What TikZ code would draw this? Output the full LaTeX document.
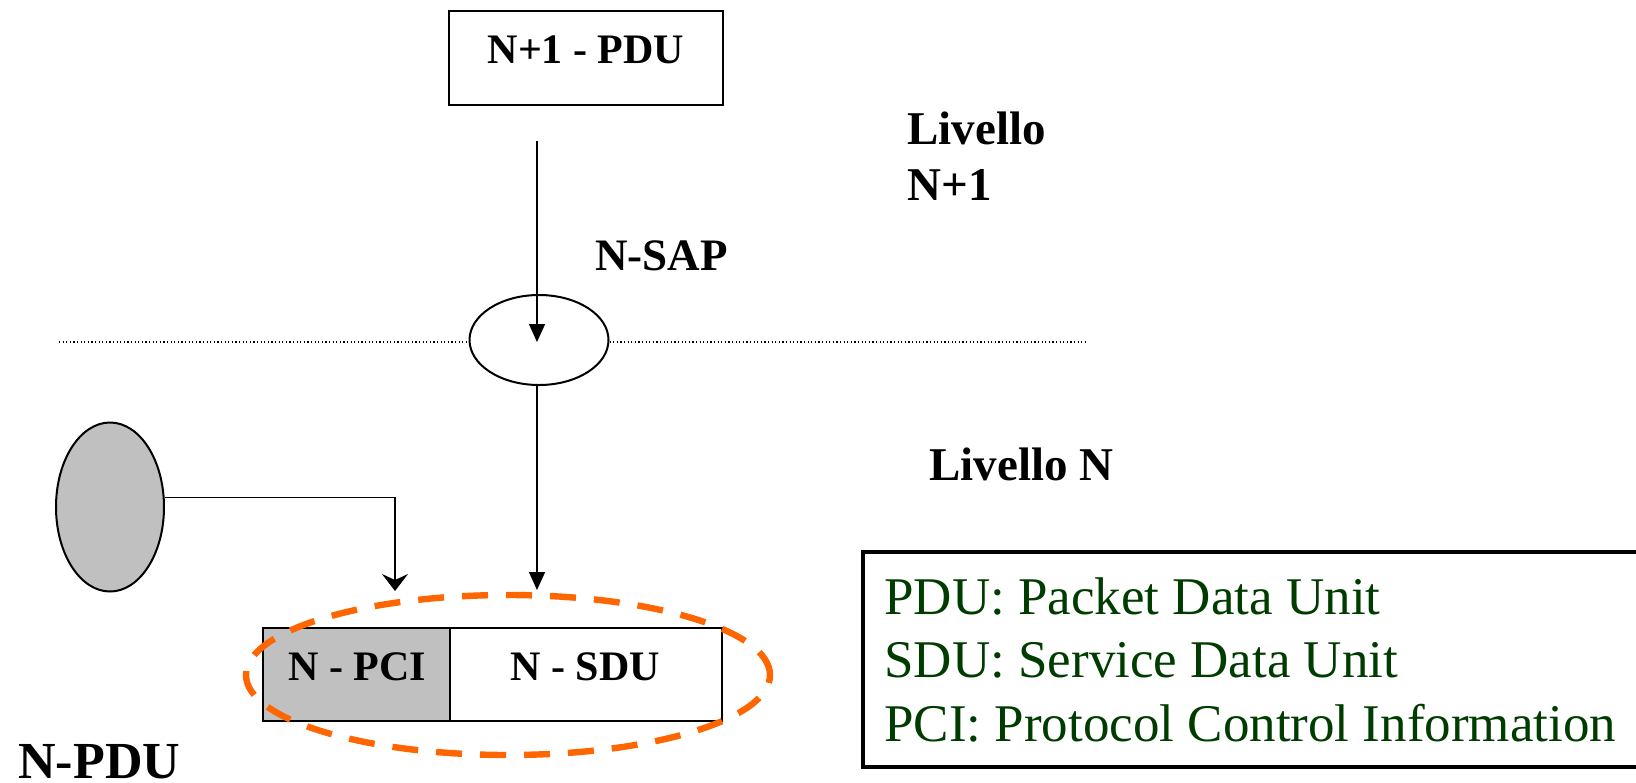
\documentclass[tikz,border=0pt]{standalone}
\usepackage{fontspec}
\setmainfont{Liberation Serif}
\usetikzlibrary{arrows.meta,shapes.geometric}
\definecolor{legendgreen}{RGB}{0,60,0}
\definecolor{dashorange}{RGB}{255,102,0}
\definecolor{pcigray}{RGB}{192,192,192}
\begin{document}
\begin{tikzpicture}[x=0.5pt,y=-0.5pt,
  boxstyle/.style={draw,rectangle,line width=1pt,inner sep=0pt},
  ellstyle/.style={draw,ellipse,line width=1pt,inner sep=0pt},
  conn/.style={line width=0.75pt},
  arr/.style={conn,-{Triangle[length=9pt,width=8pt]}},
  openarr/.style={conn,-{Stealth[length=8.5pt,width=13pt,inset=3pt]}},
  dotline/.style={line width=0.7pt,dash pattern=on 0.6pt off 1.2pt},
  boxlbl/.style={inner sep=0pt,anchor=base,font=\bfseries\fontsize{21}{25}\selectfont},
  lvl/.style={inner sep=0pt,anchor=base west,font=\bfseries\fontsize{23.5}{28}\selectfont},
  legtext/.style={inner sep=0pt,anchor=base west,text=legendgreen,font=\fontsize{26.5}{32}\selectfont}
]
\useasboundingbox (0,0) rectangle (1636,782);
\clip (0,0) rectangle (1636,782);

% top box
\node[boxstyle,minimum width=137pt,minimum height=47pt] (top) at (586,58) {};
\node[boxlbl] (toplbl) at (586,63) {N+1 - PDU};

% SAP ellipse and dotted line
\node[ellstyle,fill=white,minimum width=69.5pt,minimum height=45pt] (sap) at (539,340) {};
\coordinate (dl) at (59,342);
\coordinate (dr) at (1086,342);
\draw[dotline] (dl) -- (dl -| sap.west);
\draw[dotline] (dr -| sap.east) -- (dr);

\coordinate (a1s) at (537,141);
\coordinate (a1e) at (537,342);
\draw[arr] (a1s) -- (a1e);

% gray ellipse
\node[ellstyle,fill=pcigray,minimum width=54pt,minimum height=84.5pt] (gray) at (110,507) {};

% PDU boxes
\node[boxstyle,fill=pcigray,minimum width=93.5pt,minimum height=46.5pt] (pci) at (356.5,674.5) {};
\node[boxstyle,minimum width=136pt,minimum height=46.5pt] (sdu) at (586,674.5) {};
\node[boxlbl] (pcilbl) at (357,680) {N - PCI};
\node[boxlbl] (sdulbl) at (585,680) {N - SDU};

% connectors
\coordinate (a2e) at (395,591);
\draw[openarr] (gray.10) -| (a2e);
\coordinate (a3e) at (537,590);
\draw[arr] (sap.south -| a3e) -- (a3e);

% orange dashed ellipse
\node[draw=dashorange,ellipse,line width=3.2pt,dash pattern=on 13pt off 9pt,inner sep=0pt,minimum width=262pt,minimum height=80pt] (grp) at (508,675) {};

% labels
\node[inner sep=0pt,anchor=base west,font=\bfseries\fontsize{22.5}{27}\selectfont] (nsap) at (595,270) {N-SAP};
\node[lvl] (lvn1a) at (907,144) {Livello};
\node[lvl] (lvn1b) at (907,200) {N+1};
\node[lvl] (lvn) at (929,480) {Livello N};
\node[inner sep=0pt,anchor=base west,font=\bfseries\fontsize{26}{31}\selectfont] (npdu) at (18,778) {N-PDU};

% legend
\node[draw,rectangle,line width=2.3pt,inner sep=0pt,minimum width=418.5pt,minimum height=107.5pt] (legend) at (1281.5,659.5) {};
\node[legtext] (leg1) at (884,614) {PDU: Packet Data Unit};
\node[legtext] (leg2) at (884,677) {SDU: Service Data Unit};
\node[legtext] (leg3) at (884,741) {PCI: Protocol Control Information};
\end{tikzpicture}
\end{document}
